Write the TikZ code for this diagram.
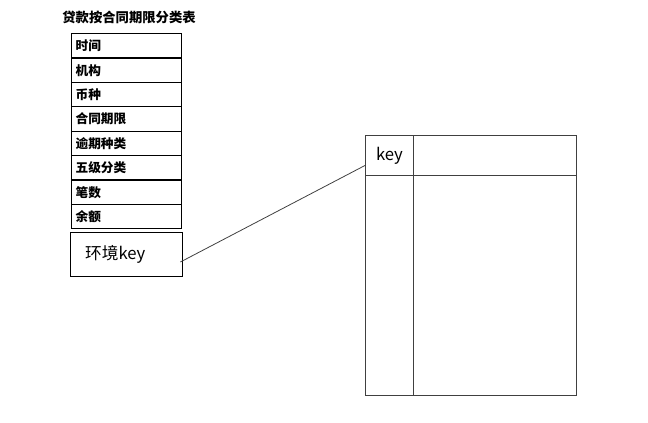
\documentclass[tikz,border=0pt]{standalone}
\usepackage{fontspec}
\setmainfont{Noto Sans CJK SC}
\begin{document}
\begin{tikzpicture}[
    x=0.75pt, y=-0.75pt,
    field/.style={
        rectangle,
        draw=black,
        line width=0.9pt,
        anchor=north west,
        minimum height=18.3pt,
        inner xsep=3pt,
        text width=76.5pt,
        align=left,
        font=\fontsize{9.5}{10}\selectfont\bfseries
    },
    cell/.style={
        rectangle,
        draw=black!75,
        line width=0.7pt,
        anchor=north west,
        inner sep=0pt
    }
]
\useasboundingbox (0,0) rectangle (648,423);

% left table
\node[font=\fontsize{10}{11}\selectfont\bfseries] (title) at (129,17) {贷款按合同期限分类表};

\foreach \name/\txt [count=\i from 0] in {time/时间, org/机构, cur/币种, term/合同期限, overdue/逾期种类, grade/五级分类, count/笔数, balance/余额}
    \node[field] (\name) at (71,{33+24.4*\i}) {\txt};

\node[cell, draw=black, line width=0.8pt, minimum width=84pt, minimum height=33pt,
      inner xsep=11pt, text width=62pt, align=left, font=\fontsize{12.5}{14}\selectfont]
    (envkey) at (70,232) {环境key};

% right table
\node[cell, minimum width=36pt, minimum height=30pt, font=\fontsize{12.5}{14}\selectfont] (keycell) at (365,135) {key};
\node[cell, minimum width=122.25pt, minimum height=30pt] (head) at (413,135) {};
\node[cell, minimum width=36pt, minimum height=165pt] (keycol) at (365,175) {};
\node[cell, minimum width=122.25pt, minimum height=165pt] (body) at (413,175) {};

% link
\draw[black!75, line width=0.6pt] ([xshift=-2pt, yshift=-5.6pt]envkey.east) -- ([yshift=-7.5pt]keycell.west);

\end{tikzpicture}
\end{document}
